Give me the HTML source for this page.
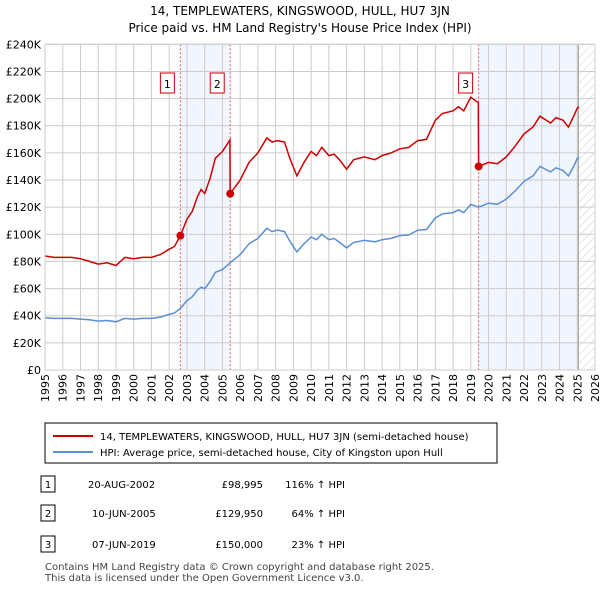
<!DOCTYPE html>
<html><head><meta charset="utf-8"><style>
body{margin:0;background:#fff;font-family:"Liberation Sans","DejaVu Sans",sans-serif;}
svg text{font-family:"DejaVu Sans","Liberation Sans",sans-serif;}
</style></head><body>
<svg id="c" width="600" height="590" xmlns="http://www.w3.org/2000/svg">
<defs><pattern id="hatch" width="6" height="6" patternUnits="userSpaceOnUse" patternTransform="rotate(45)"><line x1="0" y1="0" x2="0" y2="6" stroke="#ccc" stroke-width="1"/></pattern></defs>
<text x="300" y="15" text-anchor="middle" font-size="12">14, TEMPLEWATERS, KINGSWOOD, HULL, HU7 3JN</text>
<text x="300" y="32" text-anchor="middle" font-size="12">Price paid vs. HM Land Registry's House Price Index (HPI)</text>
<g id="plot"></g>
<rect x="45" y="423" width="452" height="40" fill="#fff" stroke="#000" stroke-width="1"/>
<line x1="53" y1="436" x2="93" y2="436" stroke="#cc0000" stroke-width="2"/>
<text x="100" y="440" font-size="10">14, TEMPLEWATERS, KINGSWOOD, HULL, HU7 3JN (semi-detached house)</text>
<line x1="53" y1="452" x2="93" y2="452" stroke="#5b8fd4" stroke-width="2"/>
<text x="100" y="456" font-size="10">HPI: Average price, semi-detached house, City of Kingston upon Hull</text>
<g font-size="10">
<rect x="41" y="476" width="14" height="16" fill="#fff" stroke="#000"/><text x="48" y="488" text-anchor="middle">1</text>
<text x="88" y="488">20-AUG-2002</text><text x="263" y="488" text-anchor="end">£98,995</text><text x="345" y="488" text-anchor="end">116% ↑ HPI</text>
<rect x="41" y="505" width="14" height="16" fill="#fff" stroke="#000"/><text x="48" y="517" text-anchor="middle">2</text>
<text x="92" y="517">10-JUN-2005</text><text x="263" y="517" text-anchor="end">£129,950</text><text x="345" y="517" text-anchor="end">64% ↑ HPI</text>
<rect x="41" y="536" width="14" height="16" fill="#fff" stroke="#000"/><text x="48" y="548" text-anchor="middle">3</text>
<text x="92" y="548">07-JUN-2019</text><text x="263" y="548" text-anchor="end">£150,000</text><text x="345" y="548" text-anchor="end">23% ↑ HPI</text>
</g>
<text x="45" y="570" font-size="10" fill="#444">Contains HM Land Registry data © Crown copyright and database right 2025.</text>
<text x="45" y="581" font-size="10" fill="#444">This data is licensed under the Open Government Licence v3.0.</text>
</svg>
<script>
const hpiT=[1995,1995.5,1996,1996.5,1997,1997.5,1998,1998.5,1999,1999.5,2000,2000.5,2001,2001.5,2002,2002.3,2002.63,2003,2003.3,2003.6,2003.8,2004,2004.3,2004.6,2005,2005.44,2006,2006.5,2007,2007.5,2007.8,2008.1,2008.5,2008.8,2009.2,2009.6,2010,2010.3,2010.6,2011,2011.3,2011.6,2012,2012.4,2013,2013.6,2014,2014.5,2015,2015.5,2016,2016.5,2017,2017.4,2018,2018.3,2018.6,2019,2019.44,2020,2020.5,2021,2021.5,2022,2022.5,2022.9,2023.5,2023.8,2024.2,2024.5,2024.8,2025,2025.1];
const hpiV=[38.5,38,38,38,37.5,37,36,36.5,35.5,38,37.5,38,38,39,41,42,45.5,51,54,59,61,60,65,72,74,79,85,93,97,104.5,102,103,102,95,87,93,98,96,100,96,97,94,90,94,95.5,94.5,96,97,99,99.5,103,103.5,112,115,116,118,116,122,120,123,122,126,132,139,143,150,146,149,147,143,150,156,157];
const priceT=[1995,1995.5,1996,1996.5,1997,1997.5,1998,1998.5,1999,1999.5,2000,2000.5,2001,2001.5,2002,2002.3,2002.63,2003,2003.3,2003.6,2003.8,2004,2004.3,2004.6,2005,2005.42,2005.44,2006,2006.5,2007,2007.5,2007.8,2008.1,2008.5,2008.8,2009.2,2009.6,2010,2010.3,2010.6,2011,2011.3,2011.6,2012,2012.4,2013,2013.6,2014,2014.5,2015,2015.5,2016,2016.5,2017,2017.4,2018,2018.3,2018.6,2019,2019.42,2019.44,2020,2020.5,2021,2021.5,2022,2022.5,2022.9,2023.5,2023.8,2024.2,2024.5,2024.8,2025,2025.1];
const priceV=[84,83,83,83,82,80,78,79,77,83,82,83,83,85,89,91,99,111,117,128,133,130,141,156,161,169.5,130,140,153,160,171,168,169,168,156,143,153,161,158,164,158,159,155,148,155,157,155,158,160,163,164,169,170,184,189,191,194,191,201,197,150,153,152,157,165,174,179,187,182,186,184,179,187,193,194];
const saleT=[2002.63,2005.44,2019.44];
const saleV=[98.995,129.95,150];
const saleLabels=["1","2","3"];
const yTicks=[0,20,40,60,80,100,120,140,160,180,200,220,240];
const xYears=[1995,1996,1997,1998,1999,2000,2001,2002,2003,2004,2005,2006,2007,2008,2009,2010,2011,2012,2013,2014,2015,2016,2017,2018,2019,2020,2021,2022,2023,2024,2025,2026];
const X0=45,X1=595,Y0=370,Y1=44.3;
const xs=t=>X0+(t-1995)/(2026-1995)*(X1-X0);
const ys=v=>Y0-v/240*(Y0-Y1);
const g=document.getElementById('plot');
const NS='http://www.w3.org/2000/svg';
function mk(tag,at,parent){const e=document.createElementNS(NS,tag);for(const k in at)e.setAttribute(k,at[k]);(parent||g).appendChild(e);return e;}
let e;
e=mk('rect',{x:X0,y:Y1,width:X1-X0,height:Y0-Y1,fill:'#fff'});


e=mk('rect',{x:xs(saleT[0]),y:Y1,width:xs(saleT[1])-xs(saleT[0]),height:Y0-Y1,fill:'#eef3fc',opacity:0.8});


e=mk('rect',{x:xs(saleT[2]),y:Y1,width:xs(2025.06)-xs(saleT[2]),height:Y0-Y1,fill:'#eef3fc',opacity:0.8});


e=mk('rect',{x:xs(2025.06),y:Y1,width:X1-xs(2025.06),height:Y0-Y1,fill:'url(#hatch)'});


yTicks.forEach(v=>{
 e=mk('line',{x1:X0,x2:X1,y1:ys(v),y2:ys(v),stroke:'#ccc','stroke-width':1});
 
 
 e=mk('text',{x:X0-4,y:ys(v)+4,'text-anchor':'end','font-size':11});
 e.textContent=v===0?'£0':'£'+v+'K';
 
 
});
xYears.forEach(y=>{
 e=mk('line',{x1:xs(y),x2:xs(y),y1:Y1,y2:Y0,stroke:'#ccc','stroke-width':1});
 
 
 e=mk('text',{x:0,y:0,'text-anchor':'end','font-size':11,transform:`translate(${xs(y)+4},${Y0+4}) rotate(-90)`});
 e.textContent=y;
 
 
});
e=mk('line',{x1:xs(2025.06),x2:xs(2025.06),y1:Y1,y2:Y0,stroke:'#999','stroke-width':1});


saleT.forEach((t,i)=>{
 e=mk('line',{x1:xs(t),x2:xs(t),y1:Y1,y2:Y0,stroke:'#e06060','stroke-width':1,'stroke-dasharray':'2,2'});
 
 
 e=mk('rect',{x:xs(t)-20,y:73,width:14,height:20,fill:'#fff',stroke:'#cc0000'});
 
 
 e=mk('text',{x:xs(t)-13,y:88,'text-anchor':'middle','font-size':11});
 e.textContent=saleLabels[i];
 
 
});
const path=(T,V)=>T.map((t,i)=>(i?'L':'M')+xs(t).toFixed(1)+','+ys(V[i]).toFixed(1)).join('');
e=mk('path',{d:path(hpiT,hpiV),fill:'none',stroke:'#5b8fd4','stroke-width':1.5});


e=mk('path',{d:path(priceT,priceV),fill:'none',stroke:'#cc0000','stroke-width':1.5});


saleT.forEach((t,i)=>{
 e=mk('circle',{cx:xs(t),cy:ys(saleV[i]),r:4,fill:'#cc0000'});
 
 
});
e=mk('rect',{x:X0,y:Y1,width:X1-X0,height:Y0-Y1,fill:'none',stroke:'#ccc'});


</script>
</body></html>
